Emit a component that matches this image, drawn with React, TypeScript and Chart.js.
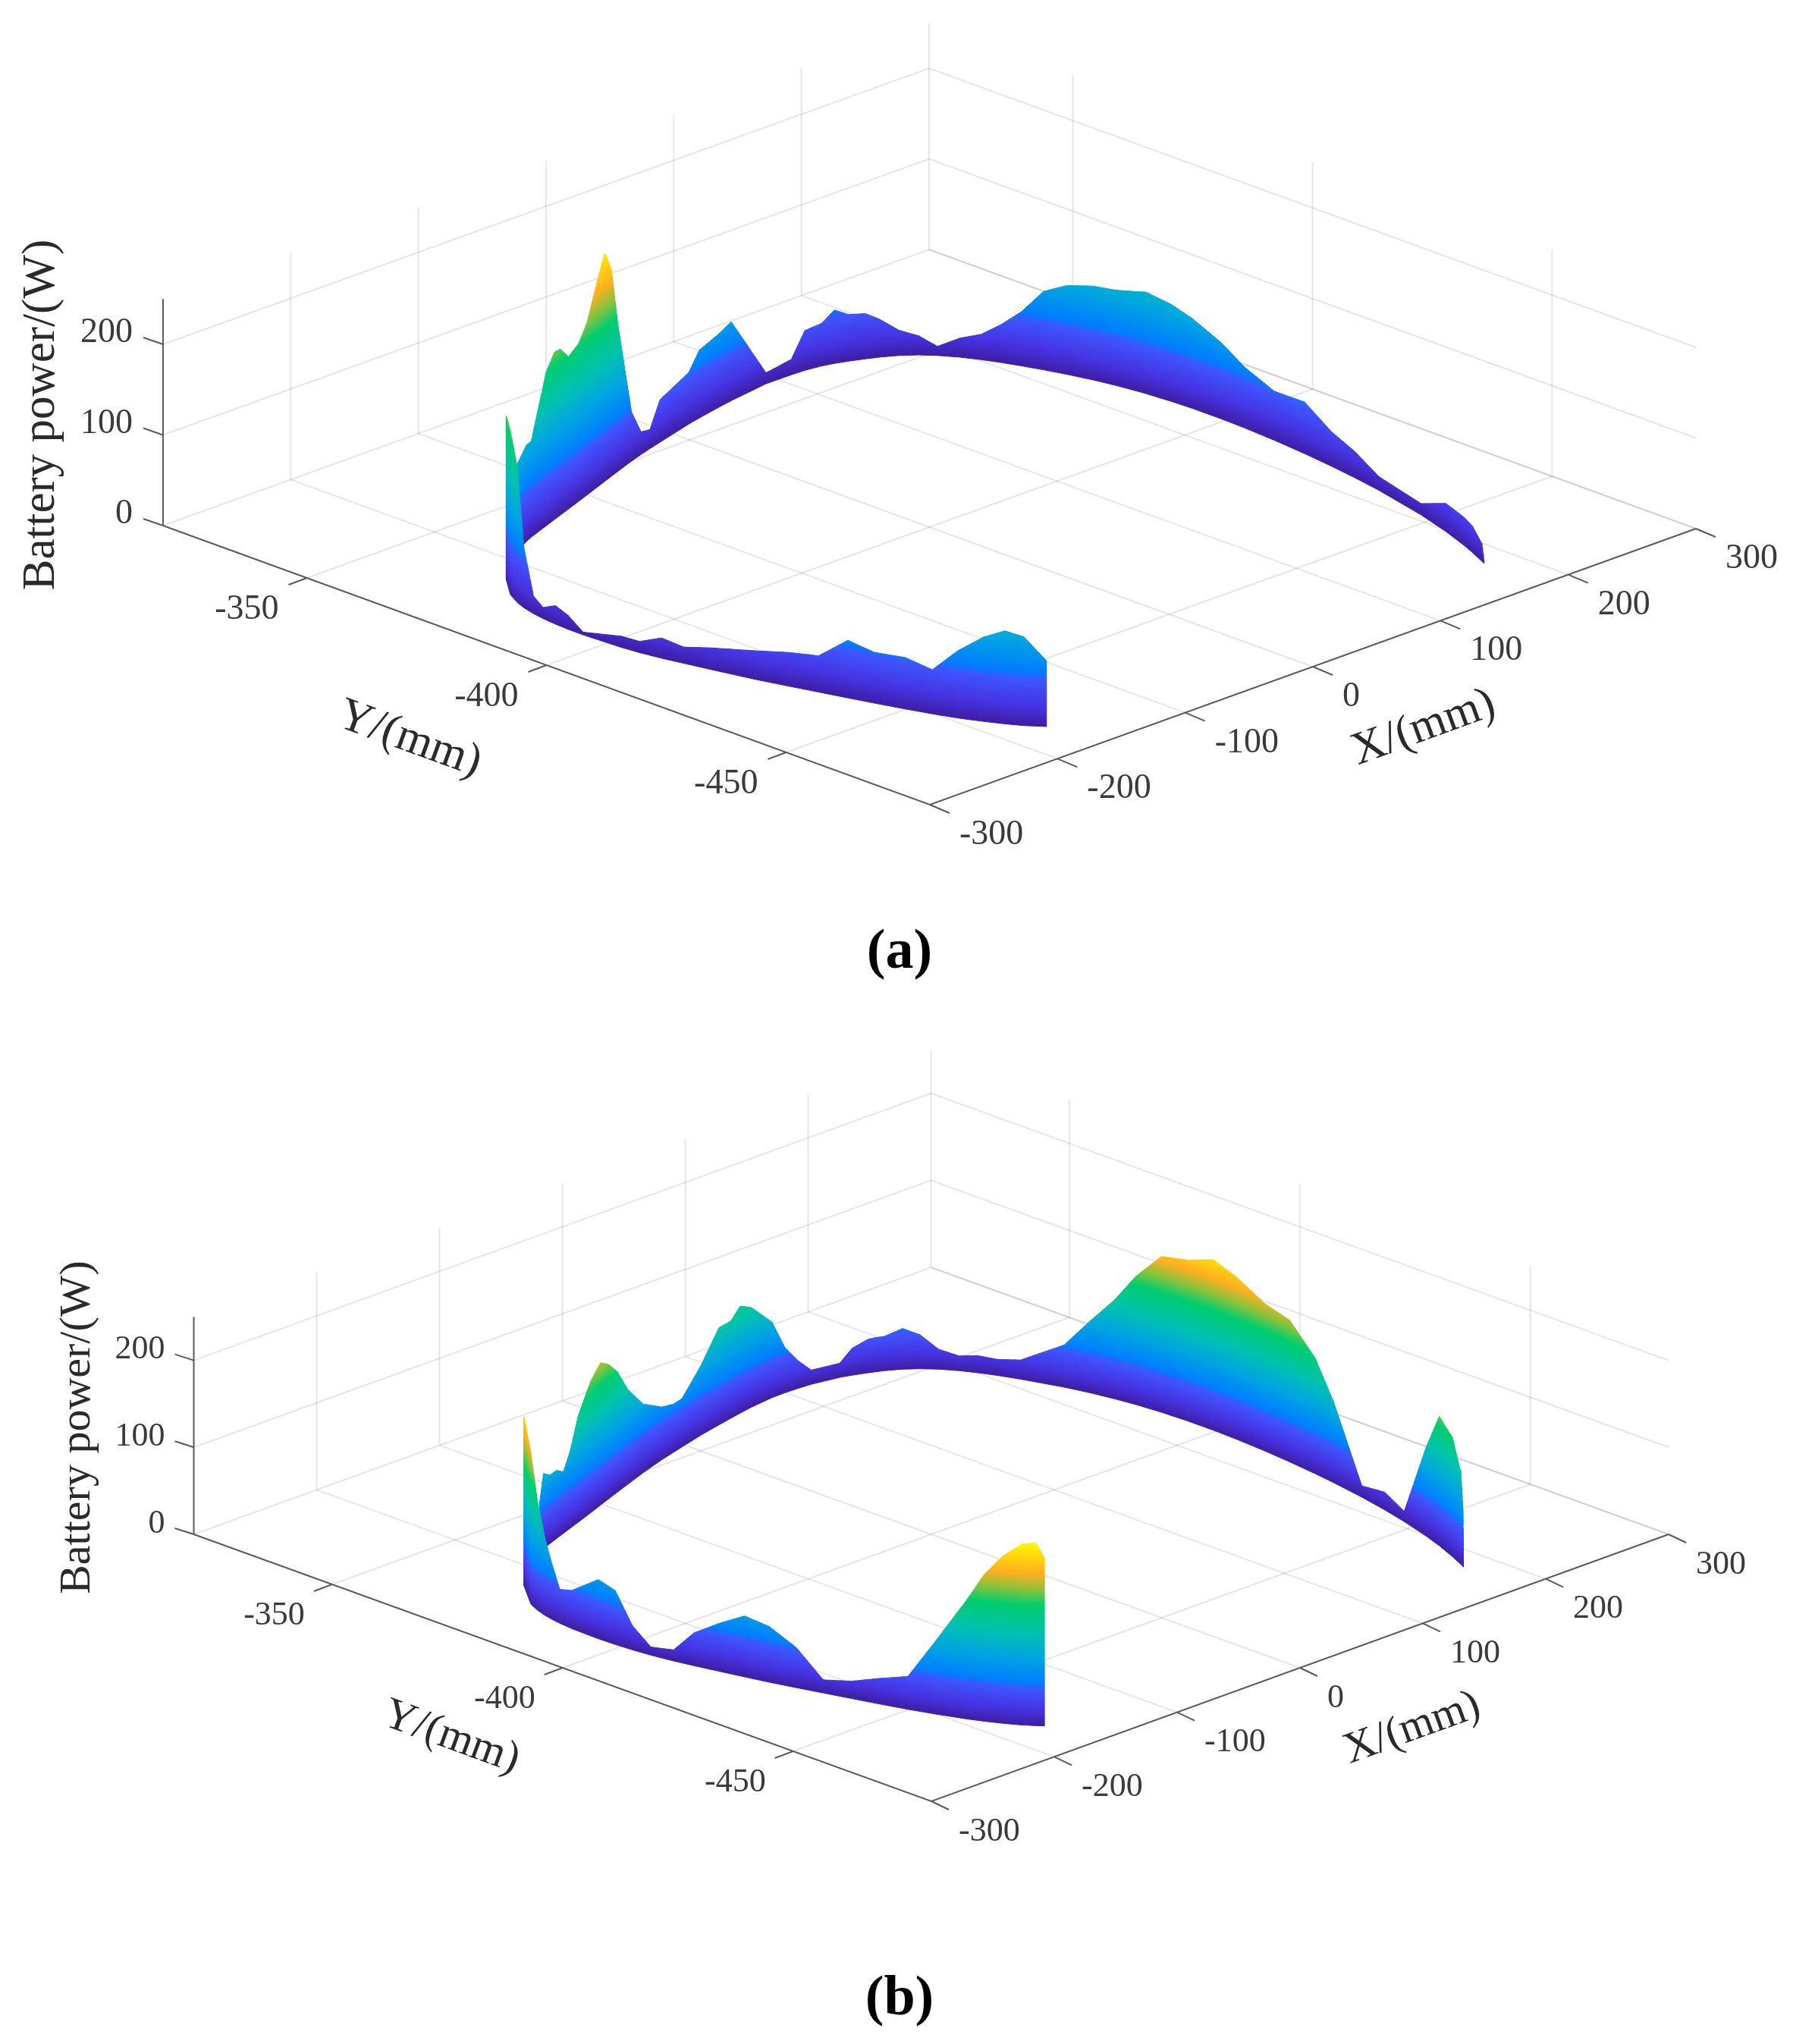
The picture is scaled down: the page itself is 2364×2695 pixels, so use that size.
import React, { useEffect, useRef } from "react";
import { Chart, registerables } from "chart.js";

Chart.register(...registerables);

// ---------- tick values ----------
const xTicks = [-300, -200, -100, 0, 100, 200, 300];
const yTicks = [-350, -400, -450];
const zTicks = [0, 100, 200];
const xRange = [-300, 300];
const yRange = [-480, -320];
const zTop = 250;

// ---------- panel (a): outer stretch of the path, from its open end to the corner ----------
const lowerXA = [-169.6, -177.5, -183.1, -188.8, -195.4, -200.7, -206.2, -212, -216.8, -222, -227.1, -233.1, -240.2, -243.9, -247, -250.1, -251.2, -252.8, -252.6, -252.4, -251, -249.5, -246.7, -243.7, -237.8, -223.4];
const lowerYA = [-469.6, -467, -464.5, -461.5, -458, -454, -449.9, -445, -440.7, -436, -431.4, -426, -418, -413.7, -409.9, -406.2, -402.6, -395.2, -392, -389.1, -386.2, -383.7, -381.2, -379, -376, -371.2];
const lowerPA = [72.5, 98, 102.6, 93, 74, 48.6, 56.8, 56, 63.5, 40, 37.4, 31.8, 23.5, 17.9, 22.4, 12.3, 12.3, 3, 15.3, 20.5, 12.3, 19.4, 65.4, 148.7, 181, 181];

// panel (a): inner stretch, from the corner to the far end
const upperXA = [-188, -173.9, -167.7, -149.3, -139.1, -132.1, -122.6, -110.3, -100, -89.7, -79.3, -77.3, -70.2, -62.9, -46.2, -35, -25.2, -14.3, 16.8, 27.5, 46.9, 58.7, 90.7, 110.3, 120.4, 131.8, 139.5, 147.5, 156.6, 164, 173.4, 181.9, 188.6, 195.8, 201.4, 206.1, 210.4, 214.5, 218.7, 223.1, 226.5, 229.5, 230.5, 231.6, 231.8, 231.6, 231.2, 229.5, 226.8, 223.8, 220.9, 216.6, 206.7, 198.4, 190.6, 186.1, 180.5, 179];
const upperYA = [-364.1, -362.2, -361.6, -359.8, -358.9, -358.2, -357.3, -356.2, -355.2, -354.2, -353.2, -353, -352.4, -351.6, -350.1, -349.1, -348.4, -347.6, -345.3, -344.7, -343.6, -343, -341.7, -341.9, -342, -342.2, -342.9, -344, -345.1, -345.9, -347.3, -349.4, -351.5, -353.8, -357, -360, -363.2, -366.8, -370.5, -374.5, -378.3, -382.3, -383.5, -388.8, -393.3, -399.4, -404.5, -411, -417.8, -424.2, -430, -436.1, -447.6, -454.8, -460.8, -463.7, -467.1, -468.1];
const upperPA = [96, 106.5, 106, 170, 185, 183, 168, 174, 190, 221, 250, 250, 228, 166, 55, 25, 21, 47, 57, 75, 81, 87, 12, 17, 44, 47, 59, 51.5, 50, 42, 28, 21, 10, 21, 28, 42, 60, 86.5, 98, 103.5, 105, 110, 112, 107, 99, 84, 67, 54, 57, 38, 29, 15, 12.5, 31, 31, 29, 19.5, 1.5];

// ---------- panel (b) ----------
const lowerXB = [-169.3, -172.4, -177.3, -183.1, -188.5, -193.1, -200.7, -206.2, -212, -216.9, -222.2, -227.2, -232.2, -236.1, -240.2, -244.1, -247, -250.2, -251.3, -252.2, -252.9, -252.4, -251, -249.8, -248.2, -245.1, -241.4, -223.4];
const lowerYB = [-469.7, -468.7, -467, -464.5, -461.7, -459.2, -454, -449.9, -445, -440.6, -435.8, -431.3, -426.8, -422.4, -418, -413.6, -409.9, -406, -402.2, -398.7, -395.2, -389.3, -386.4, -384.1, -382.2, -380, -377.6, -371.2];
const lowerPB = [193, 210, 208, 193, 168.7, 136.7, 80.6, 37.7, 29, 20, 15, 46, 64, 70, 55, 37.7, 12.7, 9.4, 28, 62, 68, 44, 39, 65, 89, 127, 174, 194];

const upperXB = [-179.4, -174.1, -165.5, -157, -148.5, -140, -130.1, -114.4, -101.7, -90.9, -80.1, -67.2, -48, -25.9, -12.7, -3.2, 17.6, 36.7, 48.8, 58.6, 69.7, 88.8, 99.3, 109.8, 119.8, 139.2, 146.6, 156, 164.7, 173.9, 181.5, 188.5, 195.3, 200.7, 205.4, 210.5, 218.9, 222.9, 227.1, 229.9, 231.6, 231.8, 231.6, 231.2, 229.3, 227, 224.1, 221.8, 217, 211.9, 206.8, 199.4, 193.9, 186.9, 181.7, 180.3, 179.9];
const upperYB = [-362.9, -362.2, -361.4, -360.6, -359.8, -359, -358.1, -356.6, -355.4, -354.3, -353.3, -352.1, -350.3, -348.4, -347.5, -346.8, -345.3, -344.2, -343.5, -343, -342.4, -341.7, -341.8, -341.9, -342, -342.9, -343.9, -345, -345.9, -347.4, -349.3, -351.4, -353.6, -356.6, -359.6, -363.4, -370.6, -374.3, -379.1, -382.8, -388.2, -394, -399.6, -404.8, -411.5, -417.2, -423.5, -428.2, -435.7, -441.8, -447.6, -454, -458.7, -463, -466.4, -467.3, -467.6];
const upperPB = [56, 86.7, 78.7, 78.3, 70.7, 88.9, 122, 151, 163.6, 154, 138, 109, 79, 60.6, 55.5, 55.5, 79.8, 111.7, 111.7, 123, 114.6, 87, 52.6, 32, 16.3, 16.3, 31, 38.8, 39.5, 46.8, 39, 23, 17, 19.6, 18.5, 22, 48.7, 78.7, 114, 147, 179, 185, 196, 186.6, 169, 163, 132.7, 93.3, 13, 20.4, 11.7, 100.6, 148.7, 137, 106, 65.6, 6];

// ---------- colour ramp ----------
const rampStops = [0, 0.08, 0.19, 0.225, 0.36, 0.5, 0.64, 0.72, 0.81, 0.97];
const rampColors = [
  [62, 30, 165], [70, 50, 225], [62, 85, 255], [0, 125, 255], [0, 165, 225],
  [0, 195, 170], [0, 205, 110], [130, 195, 60], [255, 175, 30], [255, 245, 0],
];

function ramp(f: number) {
  const v = Math.max(0, Math.min(0.97, f));
  let i = 0;
  while (i < rampStops.length - 2 && v > rampStops[i + 1]) i++;
  const t = (v - rampStops[i]) / (rampStops[i + 1] - rampStops[i]);
  const c = rampColors[i].map((a, k) => Math.round(a + (rampColors[i + 1][k] - a) * t));
  return `rgb(${c[0]},${c[1]},${c[2]})`;
}

type Panel = {
  top: number; bottom: number;
  origin: number[]; xv: number[]; yv: number[]; zv: number; clim: number;
  lower: number[][]; upper: number[][];
  xTickDir: number[]; yTickDir: number[]; zTickDir: number[];
  tickFont: number; titleFont: number;
  xLabel: number[]; yLabel: number[]; zLabel: number[];
  zTitle: number[]; yTitle: number[]; xTitle: number[];
  caption: string; captionAt: number[];
};

const panels: Panel[] = [
  {
    top: 0, bottom: 1347,
    origin: [1226, 1061], xv: [1.6833, -0.6067], yv: [-6.319, -2.3], zv: 1.195, clim: 265,
    lower: [lowerXA, lowerYA, lowerPA], upper: [upperXA, upperYA, upperPA],
    xTickDir: [26, 11], yTickDir: [-24, 9], zTickDir: [-26, -9],
    tickFont: 46, titleFont: 61,
    xLabel: [39, 40], yLabel: [-37, 42], zLabel: [-40, -15],
    zTitle: [71, 547], yTitle: [540, 975], xTitle: [1877, 960],
    caption: "(a)", captionAt: [1186, 1257],
  },
  {
    top: 1347, bottom: 2695,
    origin: [1228, 2375], xv: [1.62, -0.5867], yv: [-6.078, -2.2], zv: 1.147, clim: 215,
    lower: [lowerXB, lowerYB, lowerPB], upper: [upperXB, upperYB, upperPB],
    xTickDir: [23, 11], yTickDir: [-24, 9], zTickDir: [-25, -8],
    tickFont: 44, titleFont: 58,
    xLabel: [36, 40], yLabel: [-36, 41], zLabel: [-38, -14],
    zTitle: [118, 1882], yTitle: [595, 2291], xTitle: [1862, 2279],
    caption: "(b)", captionAt: [1186, 2637],
  },
];

function project(p: Panel, x: number, y: number, z: number) {
  const u = x - xRange[0];
  const v = y - yRange[0];
  return {
    x: p.origin[0] + u * p.xv[0] + v * p.yv[0],
    y: p.origin[1] + u * p.xv[1] + v * p.yv[1] - z * p.zv,
  };
}

const lineDs = (points: { x: number; y: number }[], color: string, width: number, order: number) => ({
  data: points, showLine: true, borderColor: color, borderWidth: width,
  pointRadius: 0, fill: false, order, tension: 0,
});

// The hand-read ground path carries reading noise; a local quadratic fit along the
// path removes the kinks it would otherwise put into the ribbon's foot.
function evenOut(xs: number[], ys: number[], h: number) {
  const s = [0];
  for (let i = 1; i < xs.length; i++) s.push(s[i - 1] + Math.hypot(xs[i] - xs[i - 1], ys[i] - ys[i - 1]));
  const fit = (v: number[], i: number) => {
    const A = [[0, 0, 0, 0], [0, 0, 0, 0], [0, 0, 0, 0]];
    for (let j = 0; j < v.length; j++) {
      const d = (s[j] - s[i]) / h;
      if (Math.abs(d) > 3) continue;
      const w = Math.exp(-d * d);
      const b = [1, d, d * d];
      for (let r = 0; r < 3; r++) {
        for (let c = 0; c < 3; c++) A[r][c] += w * b[r] * b[c];
        A[r][3] += w * b[r] * v[j];
      }
    }
    for (let c = 0; c < 3; c++) {
      let m = c;
      for (let r = c + 1; r < 3; r++) if (Math.abs(A[r][c]) > Math.abs(A[m][c])) m = r;
      [A[c], A[m]] = [A[m], A[c]];
      if (Math.abs(A[c][c]) < 1e-9) return v[i];
      for (let r = 0; r < 3; r++) {
        if (r === c) continue;
        const k = A[r][c] / A[c][c];
        for (let q = c; q < 4; q++) A[r][q] -= k * A[c][q];
      }
    }
    return A[0][3] / A[0][0];
  };
  return [xs.map((_, i) => fit(xs, i)), ys.map((_, i) => fit(ys, i))];
}

function ribbon(p: Panel, series: number[][], h: number, order: number) {
  const [rawX, rawY, ps] = series;
  const [xs, ys] = evenOut(rawX, rawY, h);
  const step = 3;
  const out: any[] = [];
  const maxP = Math.max(...ps);
  for (let a = 0; a < maxP; a += step) {
    const b = a + step;
    const pts: { x: number; y: number; p: number }[] = [];
    for (let i = 0; i < xs.length; i++) {
      pts.push({ x: xs[i], y: ys[i], p: ps[i] });
      if (i === xs.length - 1) break;
      const cuts: number[] = [];
      for (const L of [a, b]) {
        if ((ps[i] - L) * (ps[i + 1] - L) < 0) cuts.push((L - ps[i]) / (ps[i + 1] - ps[i]));
      }
      cuts.sort((m, n) => m - n);
      for (const t of cuts) {
        pts.push({ x: xs[i] + (xs[i + 1] - xs[i]) * t, y: ys[i] + (ys[i + 1] - ys[i]) * t, p: ps[i] + (ps[i + 1] - ps[i]) * t });
      }
    }
    let run: typeof pts = [];
    const flush = () => {
      if (run.length >= 2 && run.some((q) => q.p > a)) {
        const top = run.map((q) => project(p, q.x, q.y, Math.min(q.p, b)));
        const bot = run.slice().reverse().map((q) => project(p, q.x, q.y, a));
        const poly = [...top, ...bot, top[0]];
        const color = ramp((a + step / 2) / p.clim);
        out.push({
          data: poly, showLine: true, borderColor: color, borderWidth: 1, backgroundColor: color,
          pointRadius: 0, fill: "shape", order, tension: 0,
        });
      }
      run = [];
    };
    for (const q of pts) {
      if (q.p >= a - 1e-9) run.push(q);
      else flush();
    }
    flush();
  }
  return out;
}

function buildDatasets(p: Panel) {
  const grid = "rgba(60,60,60,0.13)";
  const axis = "#5a5a5a";
  const ds: any[] = [];
  const [x0, x1] = xRange;
  const [y0, y1] = yRange;
  // gridlines: floor and back walls
  for (const x of xTicks) {
    if (x === x0) continue;
    const pts = [project(p, x, y0, 0), project(p, x, y1, 0)];
    if (x !== x1) pts.push(project(p, x, y1, zTop));
    ds.push(lineDs(pts, grid, 2, 3000));
  }
  for (const y of yTicks) {
    ds.push(lineDs([project(p, x0, y, 0), project(p, x1, y, 0), project(p, x1, y, zTop)], grid, 2, 3000));
  }
  for (const z of zTicks) {
    ds.push(lineDs([project(p, x0, y1, z), project(p, x1, y1, z), project(p, x1, y0, z)], grid, 2, 3000));
  }
  ds.push(lineDs([project(p, x1, y1, 0), project(p, x1, y1, zTop)], grid, 2, 3000));
  // axes
  ds.push(lineDs([project(p, x0, y1, 0), project(p, x0, y0, 0), project(p, x1, y0, 0)], axis, 2, 2500));
  ds.push(lineDs([project(p, x0, y1, 0), project(p, x0, y1, zTop)], axis, 2, 2500));
  // tick marks
  const tick = (a: { x: number; y: number }, d: number[]) =>
    lineDs([a, { x: a.x + d[0], y: a.y + d[1] }], axis, 2, 2500);
  for (const x of xTicks) ds.push(tick(project(p, x, y0, 0), p.xTickDir));
  for (const y of yTicks) ds.push(tick(project(p, x0, y, 0), p.yTickDir));
  for (const z of zTicks) ds.push(tick(project(p, x0, y1, z), p.zTickDir));
  // surface: the far stretch first, the near stretch over it
  ds.push(...ribbon(p, p.upper, 22, 2000));
  ds.push(...ribbon(p, p.lower, 9, 1000));
  return ds;
}

const textPlugin = (p: Panel) => ({
  id: "labels3d",
  afterDatasetsDraw(chart: any) {
    const { ctx, scales } = chart;
    const px = (v: number) => scales.x.getPixelForValue(v);
    const py = (v: number) => scales.y.getPixelForValue(v);
    const serif = '"Liberation Serif", serif';
    const put = (t: string, x: number, y: number, align: CanvasTextAlign) => {
      ctx.textAlign = align;
      ctx.fillText(t, px(x), py(y));
    };
    ctx.save();
    ctx.fillStyle = "#3a3a3a";
    ctx.textBaseline = "middle";
    ctx.font = `${p.tickFont}px ${serif}`;
    for (const x of xTicks) {
      const a = project(p, x, yRange[0], 0);
      put(String(x), a.x + p.xLabel[0], a.y + p.xLabel[1], "left");
    }
    for (const y of yTicks) {
      const a = project(p, xRange[0], y, 0);
      put(String(y), a.x + p.yLabel[0], a.y + p.yLabel[1], "right");
    }
    for (const z of zTicks) {
      const a = project(p, xRange[0], yRange[1], z);
      put(String(z), a.x + p.zLabel[0], a.y + p.zLabel[1], "right");
    }
    const rotated = (t: string, at: number[], deg: number, base: CanvasTextBaseline) => {
      ctx.save();
      ctx.translate(px(at[0]), py(at[1]));
      ctx.rotate((deg * Math.PI) / 180);
      ctx.textAlign = "center";
      ctx.textBaseline = base;
      ctx.fillText(t, 0, 0);
      ctx.restore();
    };
    ctx.fillStyle = "#2a2a2a";
    ctx.font = `${p.titleFont}px ${serif}`;
    rotated("Battery power/(W)", p.zTitle, -90, "alphabetic");
    rotated("Y/(mm)", p.yTitle, 20, "middle");
    rotated("X/(mm)", p.xTitle, -20, "middle");
    ctx.fillStyle = "#000";
    ctx.font = `bold 74px ${serif}`;
    ctx.textAlign = "center";
    ctx.textBaseline = "middle";
    ctx.fillText(p.caption, px(p.captionAt[0]), py(p.captionAt[1]));
    ctx.restore();
  },
});

function PanelChart({ panel }: { panel: Panel }) {
  const ref = useRef<HTMLCanvasElement | null>(null);
  useEffect(() => {
    if (!ref.current) return;
    const chart = new Chart(ref.current, {
      type: "scatter",
      data: { datasets: buildDatasets(panel) },
      options: {
        animation: false,
        responsive: false,
        events: [],
        layout: { padding: 0 },
        plugins: { legend: { display: false }, tooltip: { enabled: false }, title: { display: false } },
        scales: {
          x: { type: "linear", min: 0, max: 2364, display: false },
          y: { type: "linear", min: panel.top, max: panel.bottom, reverse: true, display: false },
        },
      },
      plugins: [textPlugin(panel)],
    } as any);
    return () => chart.destroy();
  }, [panel]);
  return (
    <canvas
      ref={ref}
      width={2364}
      height={panel.bottom - panel.top}
      style={{ position: "absolute", left: 0, top: panel.top, width: 2364, height: panel.bottom - panel.top, display: "block" }}
    />
  );
}

export default function App() {
  return (
    <div style={{ position: "absolute", left: 0, top: 0, width: 2364, height: 2695, background: "#fff" }}>
      {panels.map((p) => (
        <PanelChart key={p.caption} panel={p} />
      ))}
    </div>
  );
}
